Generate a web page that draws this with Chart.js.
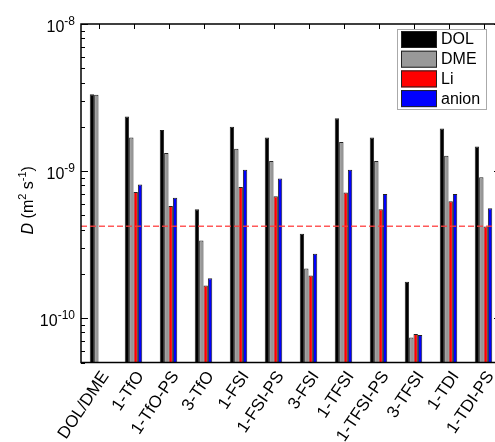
<!DOCTYPE html>
<html>
<head>
<meta charset="utf-8">
<script src="https://cdn.jsdelivr.net/npm/chart.js@4"></script>
<style>
html, body { margin: 0; padding: 0; background: #fff; overflow: hidden; }
#wrap { width: 510px; height: 442px; position: relative; }
</style>
</head>
<body>
<div id="wrap"><canvas id="chart"></canvas></div>
<script>
const categories = ['DOL/DME', '1-TfO', '1-TfO-PS', '3-TfO', '1-FSI', '1-FSI-PS',
                    '3-FSI', '1-TFSI', '1-TFSI-PS', '3-TFSI', '1-TDI', '1-TDI-PS'];
const dolValues   = [3.33e-9, 2.35e-9, 1.90e-9, 5.5e-10, 2.00e-9, 1.69e-9, 3.75e-10, 2.29e-9, 1.69e-9, 1.77e-10, 1.95e-9, 1.47e-9];
const dmeValues   = [3.30e-9, 1.69e-9, 1.33e-9, 3.38e-10, 1.42e-9, 1.17e-9, 2.18e-10, 1.58e-9, 1.17e-9, 7.4e-11, 1.27e-9, 9.1e-10];
const liValues    = [null, 7.2e-10, 5.8e-10, 1.67e-10, 7.8e-10, 6.75e-10, 1.95e-10, 7.15e-10, 5.5e-10, 7.8e-11, 6.24e-10, 4.2e-10];
const anionValues = [null, 8.1e-10, 6.6e-10, 1.87e-10, 1.02e-9, 8.9e-10, 2.74e-10, 1.02e-9, 7.0e-10, 7.7e-11, 7.0e-10, 5.6e-10];
const refValue = 4.22e-10;
const yMin = 5e-11, yMax = 1e-8;
const yMajorExponents = [-8, -9, -10];

const FONT = "'Liberation Sans', Arial, sans-serif";
const edge = '#222';

function barSet(label, data, fill) {
    return { label, data, backgroundColor: fill, borderColor: edge, borderWidth: 1 };
}

// axes frame, ticks, labels and legend drawn over the bars
const framePlugin = {
    id: 'frame',
    afterDraw(chart) {
        const ctx = chart.ctx;
        const a = chart.chartArea;
        const y = chart.scales.y;
        const x = chart.scales.x;
        ctx.save();

        // reference line
        const ry = y.getPixelForValue(refValue);
        ctx.strokeStyle = 'rgba(255, 60, 60, 0.85)';
        ctx.lineWidth = 1.5;
        ctx.setLineDash([6, 3]);
        ctx.beginPath();
        ctx.moveTo(a.left, ry);
        ctx.lineTo(a.right, ry);
        ctx.stroke();
        ctx.setLineDash([]);

        // box
        ctx.strokeStyle = '#000';
        ctx.lineWidth = 1.5;
        ctx.strokeRect(a.left, a.top, a.right - a.left, a.bottom - a.top);

        // log ticks, left and right
        ctx.lineWidth = 1;
        for (let e = -11; e <= -8; e++) {
            for (let m = 1; m <= 9; m++) {
                const v = m * Math.pow(10, e);
                if (v < yMin * 0.999 || v > yMax * 1.001) continue;
                const py = Math.round(y.getPixelForValue(v)) + 0.5;
                const len = m === 1 ? 7 : 4;
                ctx.beginPath();
                ctx.moveTo(a.left, py); ctx.lineTo(a.left + len, py);
                ctx.moveTo(a.right, py); ctx.lineTo(a.right - len, py);
                ctx.stroke();
            }
        }
        // top ticks at categories
        categories.forEach((c, i) => {
            const px = Math.round(x.getPixelForValue(i)) + 0.5;
            ctx.beginPath();
            ctx.moveTo(px, a.top); ctx.lineTo(px, a.top + 5);
            ctx.stroke();
        });

        // y tick labels with exponents
        ctx.fillStyle = '#000';
        ctx.textAlign = 'right';
        ctx.textBaseline = 'alphabetic';
        yMajorExponents.forEach(e => {
            const py = y.getPixelForValue(Math.pow(10, e));
            const sup = '-' + Math.abs(e);
            ctx.font = '12px ' + FONT;
            const sw = ctx.measureText(sup).width;
            ctx.fillText(sup, 75, py + 1);
            ctx.font = '16px ' + FONT;
            ctx.fillText('10', 75 - sw, py + 7.5);
        });

        // y title: D (m2 s-1)
        ctx.translate(33, (a.top + a.bottom) / 2 + 7);
        ctx.rotate(-Math.PI / 2);
        const parts = [
            ['italic 16px ' + FONT, 'D', 0],
            ['16px ' + FONT, ' (m', 0],
            ['11px ' + FONT, '2', -7],
            ['16px ' + FONT, ' s', 0],
            ['11px ' + FONT, '-1', -7],
            ['16px ' + FONT, ')', 0]
        ];
        let total = 0;
        parts.forEach(p => { ctx.font = p[0]; total += ctx.measureText(p[1]).width; });
        let tx = -total / 2;
        ctx.textAlign = 'left';
        parts.forEach(p => {
            ctx.font = p[0];
            ctx.fillText(p[1], tx, p[2]);
            tx += ctx.measureText(p[1]).width;
        });
        ctx.setTransform(1, 0, 0, 1, 0, 0);

        // legend
        const lx = 397, ly = 29, lw = 89, lh = 80;
        ctx.fillStyle = '#fff';
        ctx.fillRect(lx, ly, lw, lh);
        ctx.strokeStyle = '#aaa';
        ctx.lineWidth = 1;
        ctx.strokeRect(lx + 0.5, ly + 0.5, lw, lh);
        ctx.font = '16px ' + FONT;
        ctx.textBaseline = 'middle';
        chart.data.datasets.forEach((ds, i) => {
            const sy = ly + 2 + i * 19.7;
            ctx.fillStyle = ds.backgroundColor;
            ctx.fillRect(lx + 4, sy, 36, 17);
            ctx.strokeStyle = edge;
            ctx.strokeRect(lx + 4.5, sy + 0.5, 35, 16);
            ctx.fillStyle = '#000';
            ctx.fillText(ds.label, lx + 44, sy + 9);
        });
        ctx.restore();
    }
};

new Chart(document.getElementById('chart'), {
    type: 'bar',
    data: {
        labels: categories,
        datasets: [
            barSet('DOL', dolValues, '#000000'),
            barSet('DME', dmeValues, '#999999'),
            barSet('Li', liValues, '#ff0000'),
            barSet('anion', anionValues, '#0000ff')
        ]
    },
    options: {
        responsive: true,
        maintainAspectRatio: false,
        animation: false,
        devicePixelRatio: 1,
        layout: { padding: { top: 24, right: 9, left: 0, bottom: 0 } },
        datasets: { bar: { categoryPercentage: 0.5, barPercentage: 1.0 } },
        plugins: { legend: { display: false }, tooltip: { enabled: false } },
        scales: {
            x: {
                type: 'category',
                grid: { display: false, drawTicks: false },
                border: { display: false },
                ticks: {
                    color: '#000',
                    font: { family: FONT, size: 17 },
                    minRotation: 56,
                    maxRotation: 56,
                    autoSkip: false,
                    padding: 5,
                    labelOffset: 7
                },
                afterFit: s => { s.height = 79.5; }
            },
            y: {
                type: 'logarithmic',
                min: yMin,
                max: yMax,
                grid: { display: false, drawTicks: false },
                border: { display: false },
                ticks: { display: false },
                afterFit: s => { s.width = 81; }
            }
        }
    },
    plugins: [framePlugin]
});
</script>
</body>
</html>
